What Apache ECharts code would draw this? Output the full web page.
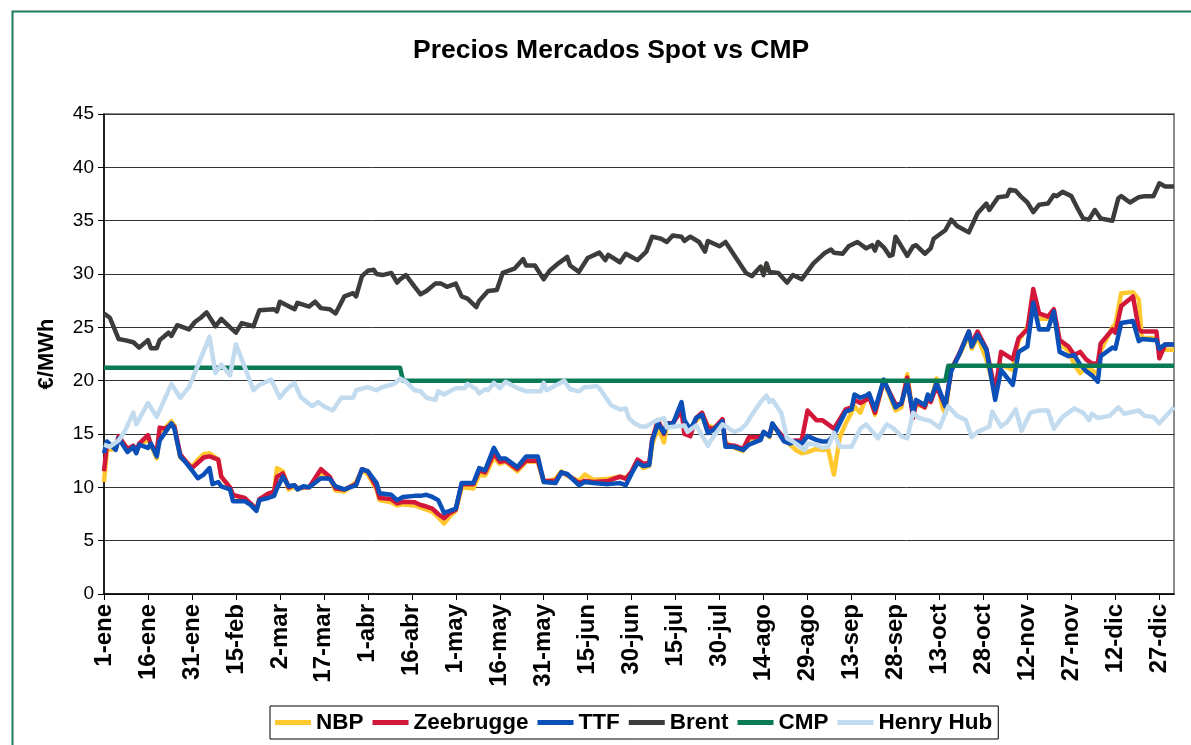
<!DOCTYPE html>
<html>
<head>
<meta charset="utf-8">
<script src="https://cdn.jsdelivr.net/npm/echarts@6/dist/echarts.min.js"></script>
<style>
html,body{margin:0;padding:0;background:#fff;}
#chart{width:1191px;height:745px;}
</style>
</head>
<body>
<div id="chart"></div>
<script>
// ---- categories (days of the year, 1-ene .. 1-ene next year) ----
var monthNames = ['ene','feb','mar','abr','may','jun','jul','ago','sep','oct','nov','dic'];
var monthDays = [31,28,31,30,31,30,31,31,30,31,30,31];
var categories = [];
for (var m = 0; m < 12; m++) for (var d = 1; d <= monthDays[m]; d++) categories.push(d + '-' + monthNames[m]);
categories.push('1-ene');

var yTicks = [0,5,10,15,20,25,30,35,40,45];

// ---- Brent ----
var brentDays = [0,2,5,7,10,12,15,16,18,19,22,23,25,29,31,33,35,38,40,43,45,47,51,53,58,59,60,65,66,70,72,74,77,79,82,85,86,88,90,92,93,95,98,100,101,103,106,108,110,113,115,117,120,122,124,127,128,131,134,136,140,143,144,147,150,152,155,157,158,159,162,165,169,171,172,176,178,180,182,185,187,190,192,194,197,198,200,203,205,206,210,212,219,221,224,225,226,227,230,233,235,238,242,246,248,249,252,254,257,260,262,263,264,266,268,269,270,274,276,277,280,282,283,287,289,291,295,298,301,302,305,308,309,311,313,315,317,319,322,324,325,327,330,332,334,336,338,340,344,346,347,350,353,355,358,360,362,365];
var brent = [26.3,25.9,23.9,23.8,23.6,23.1,23.8,23.05,23.05,23.8,24.5,24.2,25.2,24.8,25.5,25.9,26.4,25.1,25.8,25.0,24.5,25.4,25.1,26.6,26.7,26.5,27.4,26.7,27.3,26.95,27.4,26.8,26.7,26.3,27.9,28.2,27.9,29.8,30.3,30.4,30.0,29.9,30.1,29.2,29.5,29.9,28.8,28.1,28.4,29.1,29.1,28.8,29.1,27.9,27.7,26.9,27.5,28.4,28.5,30.1,30.5,31.4,30.8,30.8,29.5,30.3,31.0,31.4,31.6,30.8,30.2,31.5,32.0,31.3,31.8,31.1,31.9,31.6,31.3,32.1,33.5,33.3,33.0,33.6,33.5,33.1,33.5,33.0,32.1,33.1,32.6,33.0,30.1,29.8,30.7,29.9,31.0,30.2,30.1,29.2,29.9,29.5,31.0,32.0,32.3,32.0,31.9,32.6,33.0,32.4,32.7,32.2,33.0,32.5,31.7,31.8,33.5,31.7,32.6,32.7,31.9,32.4,33.3,34.1,35.1,34.5,33.9,35.7,36.6,36.0,37.2,37.3,37.9,37.8,37.2,36.7,35.8,36.5,36.6,37.4,37.3,37.7,37.3,36.2,35.2,35.1,36.0,35.2,35.0,37.1,37.3,36.7,37.2,37.3,37.3,38.5,38.2,38.2];

// ---- CMP ----
var cmpDays = [0,101,102,287,288,365];
var cmp = [21.2,21.2,20.0,20.0,21.4,21.4];

// ---- Henry Hub ----
var hhDays = [0,2,5,7,10,11,15,18,23,26,29,36,38,40,43,45,47,51,53,57,60,62,65,67,71,73,75,78,81,85,86,90,93,95,99,101,103,106,108,110,113,114,116,120,123,124,127,128,130,131,133,135,137,141,144,149,150,151,157,159,162,164,166,168,169,173,176,178,179,181,183,185,188,191,192,195,198,199,202,206,207,211,215,217,219,221,224,226,227,228,231,233,235,239,240,243,245,247,249,251,255,258,260,264,267,269,272,274,276,278,282,285,288,291,294,296,298,302,303,306,308,311,313,316,319,322,324,327,331,334,336,337,339,343,346,348,353,355,358,360,365];
var henryHub = [14.0,13.8,14.4,15.2,17.0,15.9,17.9,16.6,19.7,18.4,19.4,24.1,20.7,21.5,20.5,23.4,22.0,19.1,19.6,20.1,18.4,19.1,19.8,18.5,17.6,18.0,17.6,17.2,18.4,18.4,19.1,19.4,19.1,19.4,19.7,20.2,19.9,19.1,19.0,18.4,18.2,19.0,18.7,19.3,19.3,19.7,19.2,18.8,19.2,19.1,19.8,19.3,19.9,19.3,19.0,19.0,19.8,19.1,20.0,19.2,19.0,19.4,19.4,19.5,19.3,17.7,17.3,17.4,16.5,16.0,15.7,15.7,16.2,16.5,15.6,15.7,15.8,15.2,15.8,13.9,14.4,15.9,15.2,15.4,15.9,16.8,18.0,18.6,18.0,18.2,17.0,14.6,14.3,13.5,14.1,14.0,13.7,13.8,15.1,13.8,13.8,15.5,15.9,14.6,15.9,15.6,14.8,14.6,17.0,16.5,16.2,15.6,17.6,16.7,16.3,14.7,15.2,15.7,17.1,15.7,16.1,17.3,15.3,17.0,17.2,17.2,15.5,16.6,17.4,17.0,16.3,16.9,16.5,16.7,17.5,16.9,17.2,16.7,16.6,16.0,17.5];

// ---- Gas hubs (shared days) ----
var gasDays = [0,1,4,5,8,10,11,12,15,16,
  18,19,21,23,24,26,28,30,32,34,
  36,37,39,40,43,44,48,50,52,53,
  56,58,59,61,63,65,66,68,70,74,
  77,79,82,86,88,90,93,94,98,100,
  102,106,108,110,112,114,116,118,120,122,
  126,128,130,133,135,137,141,144,148,150,
  154,156,158,162,164,167,172,176,178,180,
  182,184,186,187,189,191,192,194,197,198,
  200,202,204,206,208,211,212,215,218,220,
  224,225,227,228,232,234,236,238,240,243,
  245,247,249,251,253,255,256,258,260,261,
  263,266,270,272,274,276,277,280,281,282,
  284,286,287,289,292,295,296,298,301,304,
  306,310,312,315,317,319,322,324,326,329,
  331,333,335,337,339,340,344,345,347,351,
  353,354,359,360,362,365];
var ttf = [13.2,14.3,13.5,14.6,13.3,13.8,13.2,14.0,13.7,14.1,
  12.9,14.4,15.2,16.0,15.5,12.9,12.3,11.6,10.85,11.2,
  11.8,10.3,10.5,10.1,9.8,8.7,8.7,8.35,7.8,8.8,
  9.0,9.2,9.9,11.0,10.1,10.2,9.8,10.1,10.0,10.85,
  10.8,10.1,9.8,10.2,11.7,11.5,10.4,9.45,9.3,8.8,
  9.1,9.2,9.2,9.3,9.1,8.8,7.6,7.8,8.0,10.4,
  10.4,11.8,11.6,13.7,12.7,12.7,11.9,12.9,12.9,10.5,
  10.4,11.4,11.25,10.2,10.5,10.4,10.3,10.4,10.2,11.3,
  12.3,12.0,12.1,14.4,16.0,15.1,16.0,15.9,18.0,16.3,
  15.4,16.5,16.8,15.1,15.4,16.2,13.8,13.8,13.5,14.0,
  14.45,15.2,14.8,16.0,14.3,14.1,14.3,14.1,14.8,14.45,
  14.3,14.3,14.9,16.0,17.1,17.3,18.7,18.4,18.6,18.8,
  17.3,20.1,17.5,17.9,19.8,17.0,18.2,17.7,18.7,18.2,
  19.8,18.4,17.6,20.9,22.6,24.6,23.2,24.3,22.9,18.2,
  21.0,19.6,22.7,23.2,27.3,24.8,24.8,26.5,22.7,22.3,
  22.4,21.5,20.9,20.5,19.9,22.3,23.1,23.0,25.4,25.6,
  23.7,23.9,23.8,23.0,23.4,23.4];
var zeebrugge = [11.5,14.0,13.8,14.8,13.6,13.9,13.4,14.1,14.9,14.0,
  13.3,15.6,15.5,15.9,15.7,13.1,12.4,11.8,12.3,12.8,
  12.9,12.8,12.6,11.0,10.0,9.3,9.0,8.5,7.9,8.9,
  9.4,9.6,11.0,11.3,10.0,10.2,9.9,10.0,10.0,11.7,
  11.0,9.9,9.8,10.3,11.7,11.5,10.0,9.0,8.9,8.5,
  8.65,8.6,8.35,8.2,8.0,7.5,7.1,7.6,7.9,10.3,
  10.3,11.6,11.4,13.2,12.4,12.5,11.7,12.5,12.5,10.6,
  10.6,11.4,11.2,10.4,10.6,10.5,10.6,11.0,10.8,11.5,
  12.6,12.2,12.3,14.5,16.3,15.0,16.0,16.0,17.2,15.0,
  14.8,16.5,17.0,15.6,15.5,16.4,14.0,13.9,13.6,14.7,
  14.7,15.1,14.9,15.9,14.6,14.3,14.4,14.4,17.2,16.3,
  16.3,15.9,15.5,16.4,17.3,17.5,18.2,17.9,18.2,18.5,
  17.0,20.0,17.8,17.8,20.3,16.5,18.0,17.5,18.4,18.0,
  19.5,18.2,17.6,21.0,22.7,24.6,23.5,24.6,23.0,19.0,
  22.7,22.0,24.0,24.8,28.6,26.3,26.0,26.7,23.8,23.2,
  22.4,22.7,22.0,21.6,21.6,23.5,24.8,24.5,27.0,27.9,
  24.8,24.6,24.6,22.1,23.4,23.4];
var nbp = [10.5,13.5,13.6,14.5,13.7,13.6,13.3,13.9,14.5,14.0,
  12.7,15.3,15.6,16.2,15.8,12.8,12.4,11.9,12.6,13.1,
  13.2,13.0,12.6,11.0,9.9,9.3,8.8,8.4,8.0,8.9,
  9.2,9.5,11.8,11.5,9.8,10.1,9.8,10.0,10.0,11.4,
  10.9,9.7,9.6,10.5,11.6,11.2,9.8,8.8,8.6,8.3,
  8.4,8.3,8.1,7.9,7.7,7.2,6.6,7.3,7.8,10.0,
  9.9,11.2,11.1,12.8,12.2,12.4,11.5,12.4,12.4,10.5,
  10.8,11.5,11.1,10.6,11.2,10.7,10.8,11.0,10.9,11.4,
  12.5,11.8,12.0,14.0,15.6,14.2,15.8,16.0,17.4,15.5,
  15.5,16.3,16.7,15.8,15.6,16.0,14.2,13.7,13.4,14.5,
  14.5,15.2,14.7,15.8,14.6,14.0,13.5,13.2,13.3,13.6,
  13.5,13.6,11.2,14.7,16.0,17.0,17.6,17.0,18.5,18.7,
  16.8,20.0,17.2,17.5,20.6,16.8,17.8,17.5,18.6,18.0,
  20.2,17.5,16.9,21.2,22.5,24.3,23.0,24.1,22.0,18.8,
  21.5,21.0,23.8,25.0,27.0,25.8,25.8,26.3,23.5,22.8,
  21.5,20.7,21.2,21.0,20.6,22.8,25.0,25.3,28.2,28.3,
  27.6,24.0,24.0,22.9,22.9,22.9];

function pairs(days, vals){ return days.map(function(d,i){ return [d, vals[i]]; }); }

var FONT = 'Arial, "Liberation Sans", sans-serif';
var chart = echarts.init(document.getElementById('chart'), null, {renderer:'canvas'});

function lineSeries(name, color, days, vals){
  return {
    name: name, type: 'line', data: pairs(days, vals),
    showSymbol: false, symbol: 'none', smooth: false,
    lineStyle: {color: color, width: 4.5, join: 'round'},
    itemStyle: {color: color},
    emphasis: {disabled: true}
  };
}

chart.setOption({
  animation: false,
  backgroundColor: '#ffffff',
  title: {
    text: 'Precios Mercados Spot vs CMP',
    left: 408, top: 32,
    textStyle: {fontFamily: FONT, fontSize: 26.5, fontWeight: 'bold', color: '#000'}
  },
  graphic: [{
    type: 'rect', left: 10, top: 9, silent: true,
    shape: {width: 1300, height: 1000},
    style: {fill: 'none', stroke: '#1f7d62', lineWidth: 2}
  }],
  grid: {
    left: 104, right: 17, top: 114, bottom: 151,
    show: true, borderColor: '#8c8c8c', borderWidth: 2, backgroundColor: 'transparent'
  },
  legend: {
    left: 270, top: 706,
    padding: [5, 6, 5, 5],
    borderColor: '#000', borderWidth: 1,
    itemGap: 9, itemWidth: 36, itemHeight: 5, icon: 'rect',
    textStyle: {fontFamily: FONT, fontSize: 22.5, fontWeight: 'bold', color: '#000', padding: [0,0,0,0]},
    data: ['NBP','Zeebrugge','TTF','Brent','CMP','Henry Hub']
  },
  xAxis: {
    type: 'category', data: categories, boundaryGap: false,
    axisLine: {show: true, lineStyle: {color: '#000', width: 1.5}},
    axisTick: {show: true, interval: 14, length: 6, lineStyle: {color: '#000', width: 1}},
    axisLabel: {interval: 14, rotate: 90, margin: 10, fontFamily: FONT, fontSize: 24, fontWeight: 'bold', color: '#000'},
    splitLine: {show: false}
  },
  yAxis: {
    type: 'value', min: 0, max: 45, interval: 5,
    name: '€/MWh', nameLocation: 'middle', nameGap: 46,
    nameTextStyle: {fontFamily: FONT, fontSize: 22, fontWeight: 'bold', color: '#000'},
    axisLine: {show: true, lineStyle: {color: '#000', width: 1.5}},
    axisTick: {show: true, length: 6, lineStyle: {color: '#000'}},
    axisLabel: {margin: 10, fontFamily: FONT, fontSize: 19, color: '#000',
      formatter: function(v){ return yTicks.indexOf(v) >= 0 ? String(v) : ''; }},
    splitLine: {show: true, lineStyle: {color: '#333', width: 1}}
  },
  series: [
    lineSeries('NBP', '#ffc82e', gasDays, nbp),
    lineSeries('Zeebrugge', '#d3173b', gasDays, zeebrugge),
    lineSeries('TTF', '#0b50b8', gasDays, ttf),
    lineSeries('Brent', '#3c3c3a', brentDays, brent),
    lineSeries('CMP', '#0a7a56', cmpDays, cmp),
    lineSeries('Henry Hub', '#c3dbee', hhDays, henryHub)
  ]
});
</script>
</body>
</html>
